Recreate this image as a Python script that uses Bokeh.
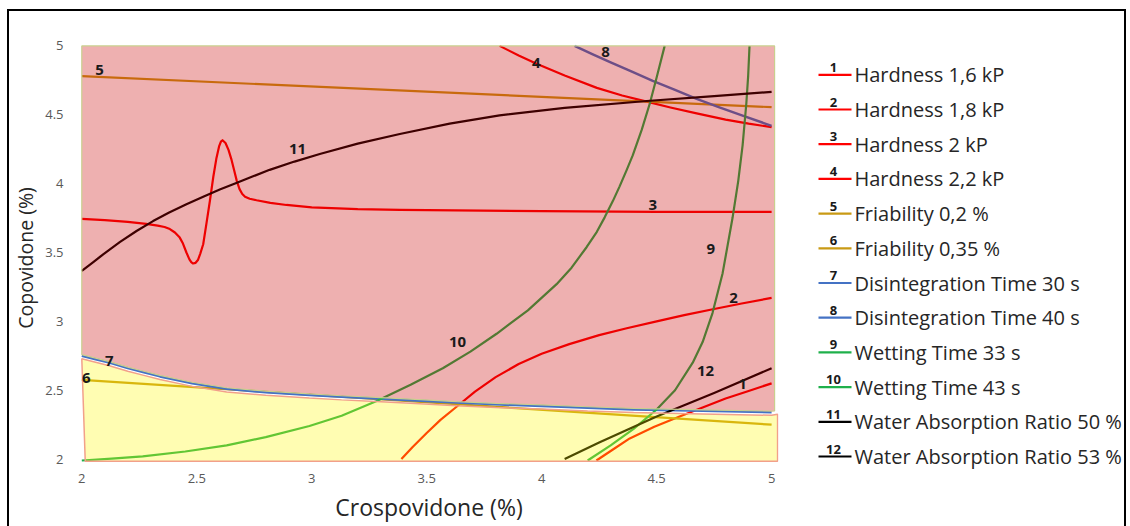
from bokeh.plotting import figure
from bokeh.models import Range1d, FixedTicker, ColumnDataSource, LabelSet
from bokeh.layouts import row
from bokeh.embed import file_html
from bokeh.resources import INLINE
from bokeh.core.properties import value

# ---------------- data ----------------
series_names = ["Hardness 1,6 kP", "Hardness 1,8 kP", "Hardness 2 kP", "Hardness 2,2 kP",
                "Friability 0,2 %", "Friability 0,35 %",
                "Disintegration Time 30 s", "Disintegration Time 40 s",
                "Wetting Time 33 s", "Wetting Time 43 s",
                "Water Absorption Ratio 50 %", "Water Absorption Ratio 53 %"]
series_numbers = ["1", "2", "3", "4", "5", "6", "7", "8", "9", "10", "11", "12"]

c1_x = [4.238, 4.31, 4.383, 4.49, 4.6, 4.7, 4.8, 4.9, 5.0]
c1_y = [1.99, 2.07, 2.15, 2.235, 2.31, 2.375, 2.44, 2.495, 2.55]

c2_x = [3.39, 3.44, 3.5, 3.56, 3.63, 3.71, 3.8, 3.9, 4.0, 4.12, 4.25, 4.37, 4.5, 4.62, 4.75, 4.87, 5.0]
c2_y = [2.0, 2.09, 2.19, 2.285, 2.38, 2.49, 2.595, 2.69, 2.765, 2.835, 2.9, 2.95, 3.0, 3.045, 3.09, 3.13, 3.17]

c3_x = [2.0, 2.1, 2.2, 2.28, 2.33, 2.36, 2.383, 2.405, 2.426, 2.44, 2.455, 2.468, 2.476, 2.484,
        2.495, 2.505, 2.515, 2.528, 2.542, 2.557, 2.572, 2.585, 2.597, 2.605, 2.612, 2.625,
        2.638, 2.65, 2.662, 2.674, 2.686, 2.698, 2.71, 2.73, 2.76, 2.82, 2.89, 3.0, 3.2, 3.383,
        4.0, 4.5, 5.0]
c3_y = [3.744, 3.735, 3.722, 3.708, 3.695, 3.685, 3.67, 3.645, 3.608, 3.565, 3.50, 3.45, 3.43, 3.42,
        3.425, 3.445, 3.49, 3.56, 3.71, 3.874, 4.05, 4.18, 4.27, 4.305, 4.315, 4.295,
        4.245, 4.18, 4.10, 4.02, 3.96, 3.925, 3.905, 3.89, 3.879, 3.86, 3.845, 3.828, 3.815, 3.81,
        3.8, 3.795, 3.795]

c4_x = [3.817, 3.9, 3.978, 4.1, 4.24, 4.35, 4.457, 4.56, 4.674, 4.8, 4.9, 5.0]
c4_y = [5.0, 4.93, 4.87, 4.785, 4.695, 4.64, 4.595, 4.553, 4.51, 4.465, 4.435, 4.41]

c5_x = [2.0, 5.0]
c5_y = [4.78, 4.555]

c6_x = [2.0, 5.0]
c6_y = [2.575, 2.25]

c7_x = [2.0, 2.06, 2.12, 2.2, 2.27, 2.34, 2.48, 2.63, 2.8, 2.99, 3.13, 3.28, 3.45, 3.63, 3.8,
        4.0, 4.2, 4.4, 4.7, 5.0]
c7_y = [2.75, 2.725, 2.70, 2.66, 2.63, 2.60, 2.55, 2.51, 2.485, 2.465, 2.452, 2.44, 2.425, 2.41,
        2.397, 2.385, 2.372, 2.36, 2.35, 2.34]

c8_x = [4.143, 4.22, 4.3, 4.39, 4.483, 4.58, 4.674, 4.77, 4.88, 5.0]
c8_y = [5.0, 4.94, 4.88, 4.815, 4.746, 4.68, 4.615, 4.555, 4.49, 4.42]

c9_x = [4.2, 4.3, 4.4, 4.5, 4.58, 4.657, 4.70, 4.743, 4.787, 4.83, 4.855, 4.874, 4.89, 4.898, 4.904]
c9_y = [1.99, 2.1, 2.22, 2.36, 2.5, 2.7, 2.85, 3.06, 3.35, 3.75, 4.02, 4.28, 4.58, 4.78, 5.0]

c10_x = [2.0, 2.13, 2.265, 2.45, 2.63, 2.8, 2.99, 3.13, 3.28, 3.43, 3.57, 3.69, 3.804, 3.94,
         4.065, 4.13, 4.196, 4.24, 4.274, 4.31, 4.339, 4.37, 4.396, 4.435, 4.47, 4.5, 4.535]
c10_y = [1.99, 2.003, 2.02, 2.055, 2.10, 2.16, 2.24, 2.315, 2.42, 2.54, 2.66, 2.78, 2.91, 3.08,
         3.27, 3.39, 3.54, 3.65, 3.755, 3.875, 3.98, 4.10, 4.205, 4.39, 4.58, 4.77, 5.0]

c11_x = [2.0, 2.05, 2.093, 2.165, 2.238, 2.31, 2.38, 2.455, 2.528, 2.6, 2.672, 2.745, 2.817,
         2.925, 3.035, 3.2, 3.383, 3.6, 3.817, 4.1, 4.457, 4.75, 5.0]
c11_y = [3.366, 3.43, 3.487, 3.575, 3.656, 3.728, 3.79, 3.85, 3.905, 3.957, 4.005, 4.053, 4.10,
         4.16, 4.215, 4.29, 4.36, 4.435, 4.495, 4.55, 4.60, 4.635, 4.666]

c12_x = [4.1, 4.25, 4.5, 4.75, 5.0]
c12_y = [2.0, 2.12, 2.31, 2.48, 2.66]

x_ticks = [2, 2.5, 3, 3.5, 4, 4.5, 5]
x_tick_labels = ["2", "2.5", "3", "3.5", "4", "4.5", "5"]
y_ticks = [2, 2.5, 3, 3.5, 4, 4.5, 5]
y_tick_labels = ["2", "2.5", "3", "3.5", "4", "4.5", "5"]

# curve number labels (anchor points in data space)
lbl_x = [4.874, 4.834, 4.483, 3.977, 2.077, 2.02, 2.12, 4.278, 4.735, 3.634, 2.938, 4.713]
lbl_y = [2.547, 3.172, 3.847, 4.879, 4.828, 2.59, 2.714, 4.952, 3.528, 2.852, 4.254, 2.641]

# ---------------- styles ----------------
RED = "#FF0000"
GOLD = "#C99A14"
BLUE = "#4472C4"
GREEN = "#1FB04B"
BLACK = "#000000"
colors = [RED, RED, RED, RED, GOLD, GOLD, BLUE, BLUE, GREEN, GREEN, BLACK, BLACK]
FONT = "Open Sans"

curves = [(c1_x, c1_y), (c2_x, c2_y), (c3_x, c3_y), (c4_x, c4_y), (c5_x, c5_y), (c6_x, c6_y),
          (c7_x, c7_y), (c8_x, c8_y), (c9_x, c9_y), (c10_x, c10_y), (c11_x, c11_y), (c12_x, c12_y)]

FIG_H = 515
BTOP, BBOT = 33, 55
p = figure(width=790, height=FIG_H, x_range=Range1d(1.99, 5.03), y_range=Range1d(1.91, 5.01),
           output_backend="svg", toolbar_location=None,
           min_border_left=70, min_border_right=21, min_border_top=BTOP, min_border_bottom=BBOT)
p.grid.visible = False
p.outline_line_color = None
p.background_fill_color = "white"

for (xs, ys), col in zip(curves, colors):
    p.line(xs, ys, line_color=col, line_width=2.4 if col == BLUE else 2.2, line_join="round")

# feasible regions drawn as translucent overlays on top of the lines
x_edge_pink = 5.013
x_edge_yel = 5.026
pink_x = list(c7_x) + [x_edge_pink, x_edge_pink, 2.0]
pink_y = [v + 0.008 for v in c7_y] + [c7_y[-1] + 0.01, 5.0, 5.0]
yel_x = list(c7_x) + [x_edge_yel, x_edge_yel, 2.015]
yel_y = [v - 0.022 for v in c7_y] + [c7_y[-1] - 0.015, 1.985, 1.985]

p.patch(yel_x, yel_y, fill_color="#FFFA00", fill_alpha=0.3, line_color="#F2A08A", line_width=1.5)
p.patch(pink_x, pink_y, fill_color="#C80000", fill_alpha=0.31, line_color="#C9CF8E", line_width=1.2)

p.text(x=lbl_x, y=lbl_y, text=series_numbers, text_font=value(FONT), text_font_style="bold",
       text_font_size="15px", text_align="center", text_baseline="middle", text_color="#1a1a1a")

for ax, ticks, labels in ((p.xaxis, x_ticks, x_tick_labels), (p.yaxis, y_ticks, y_tick_labels)):
    ax.ticker = FixedTicker(ticks=ticks)
    ax.major_label_overrides = {t: s for t, s in zip(ticks, labels)}
    ax.axis_line_color = None
    ax.major_tick_line_color = None
    ax.minor_tick_line_color = None
    ax.major_label_text_font = FONT
    ax.major_label_text_font_size = "13px"
    ax.major_label_text_color = "#595959"
    ax.axis_label_text_font = FONT
    ax.axis_label_text_font_style = "normal"
    ax.axis_label_text_color = "#262626"

p.xaxis.axis_label = "Crospovidone (%)"
p.yaxis.axis_label = "Copovidone (%)"
p.xaxis.axis_label_text_font_size = "23px"
p.yaxis.axis_label_text_font_size = "19.5px"
p.xaxis.major_label_standoff = -4
p.yaxis.major_label_standoff = 10
p.xaxis.axis_label_standoff = 5
p.yaxis.axis_label_standoff = 3

# ---------------- legend panel (page-pixel coordinates) ----------------
PAGE_TOP = 11
leg = figure(width=325, height=FIG_H, x_range=Range1d(800, 1125),
             y_range=Range1d(PAGE_TOP + FIG_H - BBOT, PAGE_TOP + BTOP),
             output_backend="svg", toolbar_location=None,
             min_border_left=0, min_border_right=0, min_border_top=BTOP, min_border_bottom=BBOT,
             x_axis_location=None, y_axis_location=None)
leg.grid.visible = False
leg.outline_line_color = None

row_y = [74.3 + 34.7 * i for i in range(len(series_names))]
leg.multi_line(xs=[[819, 852]] * len(row_y), ys=[[yy, yy] for yy in row_y],
               line_color=colors, line_width=2.2)
num_src = ColumnDataSource(dict(x=[834] * len(row_y), y=[yy - 3 for yy in row_y], text=series_numbers))
name_src = ColumnDataSource(dict(x=[855] * len(row_y), y=row_y, text=series_names))
leg.add_layout(LabelSet(x="x", y="y", text="text", source=num_src, text_font=value(FONT),
                        text_font_style="bold", text_font_size="13px", text_align="center",
                        text_baseline="bottom", text_color="#1a1a1a"))
leg.add_layout(LabelSet(x="x", y="y", text="text", source=name_src, text_font=value(FONT),
                        text_font_size="20px", text_align="left", text_baseline="middle",
                        text_color="#262626"))

layout = row(p, leg, styles={"border-top": "2px solid #000", "border-left": "2px solid #000",
                             "border-right": "2px solid #000", "margin-left": "7px",
                             "margin-top": "9px"})

open("out.html", "w").write(file_html(layout, INLINE))
